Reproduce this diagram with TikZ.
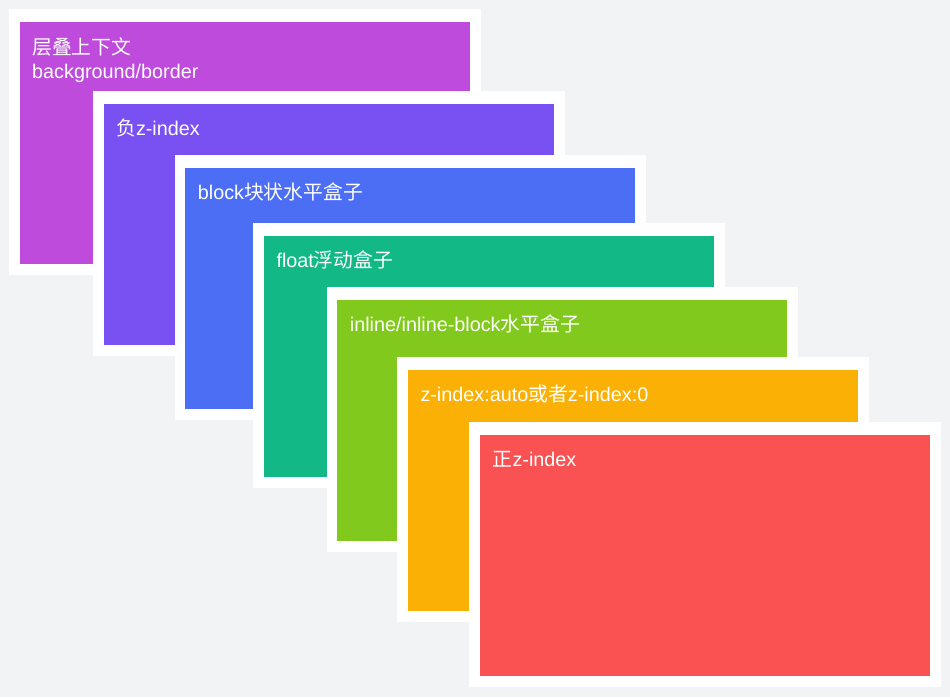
\documentclass[tikz,border=0pt]{standalone}
\usepackage{fontspec}
\setmainfont{Liberation Sans}
\newfontfamily\cjk{Noto Sans CJK SC}
\definecolor{pagebg}{HTML}{F1F3F5}
\definecolor{grape}{HTML}{BE4BDB}
\definecolor{violet}{HTML}{7950F2}
\definecolor{indigo}{HTML}{4C6EF5}
\definecolor{teal}{HTML}{12B886}
\definecolor{lime}{HTML}{82C91E}
\definecolor{amber}{HTML}{FAB005}
\definecolor{coral}{HTML}{FA5252}
\begin{document}
\begin{tikzpicture}[x=1pt,y=-1pt,
  frame/.style={fill=white},
  layer/.style={anchor=north west,minimum width=450pt,minimum height=241.7pt,inner sep=0pt,outer sep=0pt},
  tag/.style={anchor=base west,inner sep=0pt,text=white,font=\fontsize{19.8}{24}\selectfont}]
\fill [pagebg] (0,0) rectangle (950,697);
\useasboundingbox (0,0) rectangle (950,697);
\fill [frame] (9,9.3) rectangle (480.5,274.8);
\node [layer,fill=grape] (ctx) at (19.7,22.3) {};
\node [tag] (ctxname) at (32,54.3) {{\cjk 层叠上下文}};
\node [tag] (ctxbg) at (32,78.3) {background/border};
\fill [frame] (93,90.7) rectangle (564.5,356.2);
\node [layer,fill=violet] (neg) at (103.7,103.7) {};
\node [tag] (negname) at (116,135.7) {{\cjk 负}z-index};
\fill [frame] (174.7,154.7) rectangle (646.2,420.2);
\node [layer,fill=indigo] (blk) at (185.4,167.7) {};
\node [tag] (blkname) at (197.7,199.7) {block{\cjk 块状水平盒子}};
\fill [frame] (253.3,222.7) rectangle (724.8,488.2);
\node [layer,fill=teal] (flt) at (264,235.7) {};
\node [tag] (fltname) at (276.3,267.7) {float{\cjk 浮动盒子}};
\fill [frame] (326.7,286.7) rectangle (798.2,552.2);
\node [layer,fill=lime] (inl) at (337.4,299.7) {};
\node [tag] (inlname) at (349.7,331.7) {inline/inline-block{\cjk 水平盒子}};
\fill [frame] (397.3,356.7) rectangle (868.8,622.2);
\node [layer,fill=amber] (zero) at (408,369.7) {};
\node [tag] (zeroname) at (420.3,401.7) {z-index:auto{\cjk 或者}z-index:0};
\fill [frame] (469,421.7) rectangle (940.5,687.2);
\node [layer,fill=coral] (pos) at (479.7,434.7) {};
\node [tag] (posname) at (492.5,466.7) {{\cjk 正}z-index};
\end{tikzpicture}
\end{document}
